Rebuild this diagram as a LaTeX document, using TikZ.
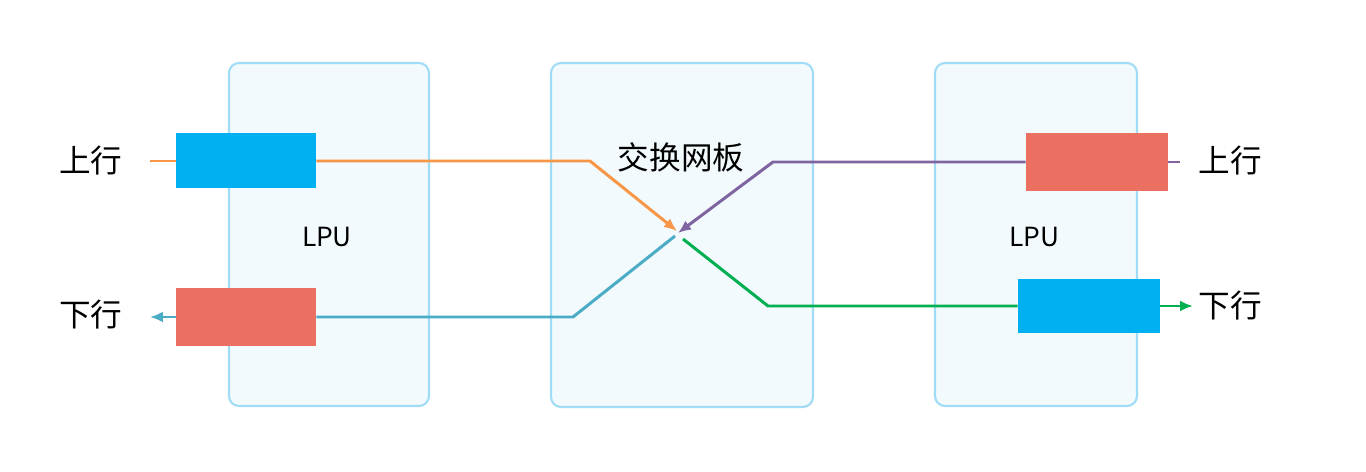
\documentclass[tikz,border=0pt]{standalone}
\usepackage{fontspec}
\setmainfont{Noto Sans CJK SC}
\usepackage{tikz}
\usetikzlibrary{arrows.meta}

\definecolor{panelfill}{RGB}{242,250,253}
\definecolor{paneldraw}{RGB}{160,220,245}
\definecolor{boxblue}{RGB}{0,176,240}
\definecolor{boxred}{RGB}{235,112,98}
\definecolor{uporange}{RGB}{247,150,70}
\definecolor{uppurple}{RGB}{128,100,162}
\definecolor{downteal}{RGB}{75,172,198}
\definecolor{downgreen}{RGB}{0,176,80}

\tikzset{
  panel/.style={draw=paneldraw, fill=panelfill, line width=1.2pt, rounded corners=2mm},
  portbox/.style={rectangle, inner sep=0pt, minimum width=2.8cm},
  flow/.style={line width=1.7pt},
  tip/.style={-{Latex[length=2.6mm, width=2.2mm]}},
  bigtext/.style={inner sep=0pt, font=\fontsize{18}{20}\selectfont},
  lputext/.style={inner sep=0pt, font=\fontsize{15}{17}\selectfont}
}

\begin{document}
\begin{tikzpicture}[x=0.02cm, y=-0.02cm]
\useasboundingbox (0,0) rectangle (1366,472);

% panels
\draw[panel] (229,63) rectangle (429,406);
\draw[panel] (551,63) rectangle (813,407);
\draw[panel] (935,63) rectangle (1137,406);

\node[lputext] (lpuleft) at (327,237) {LPU};
\node[lputext] (lpuright) at (1034,237) {LPU};
\node[bigtext] (fabric) at (681,157) {交换网板};

\node[bigtext] (upleft) at (91,161) {上行};
\node[bigtext] (downleft) at (91,315) {下行};
\node[bigtext] (upright) at (1230,161) {上行};
\node[bigtext] (downright) at (1230,306) {下行};

% port boxes
\node[portbox, fill=boxblue, minimum height=1.1cm] (upinbox) at (246,161) {};
\node[portbox, fill=boxred, minimum height=1.18cm] (downoutbox) at (246,317) {};
\node[portbox, fill=boxred, minimum width=2.84cm, minimum height=1.18cm] (upinbox2) at (1097,162) {};
\node[portbox, fill=boxblue, minimum width=2.84cm, minimum height=1.1cm] (downoutbox2) at (1089,306) {};

% connector points
\coordinate (orangein) at (150,161);
\coordinate (orangekink) at (590,161);
\coordinate (orangeend) at (677,231);
\coordinate (purpleout) at (1180,162);
\coordinate (purplekink) at (773,162);
\coordinate (purpleend) at (678,233);
\coordinate (tealstart) at (675,236);
\coordinate (tealkink) at (573,317);
\coordinate (tealend) at (150,317);
\coordinate (greenstart) at (683,239);
\coordinate (greenkink) at (768,306);
\coordinate (greenend) at (1193,306);

% flows
\draw[flow, uporange] (orangein) -- (upinbox.west);
\draw[flow, uporange, tip] (upinbox.east) -- (orangekink) -- (orangeend);
\draw[flow, uppurple] (purpleout) -- (upinbox2.east);
\draw[flow, uppurple, tip] (upinbox2.west) -- (purplekink) -- (purpleend);
\draw[flow, downteal] (tealstart) -- (tealkink) -- (downoutbox.east);
\draw[flow, downteal, tip] (downoutbox.west) -- (tealend);
\draw[flow, downgreen] (greenstart) -- (greenkink) -- (downoutbox2.west);
\draw[flow, downgreen, tip] (downoutbox2.east) -- (greenend);

\end{tikzpicture}
\end{document}
